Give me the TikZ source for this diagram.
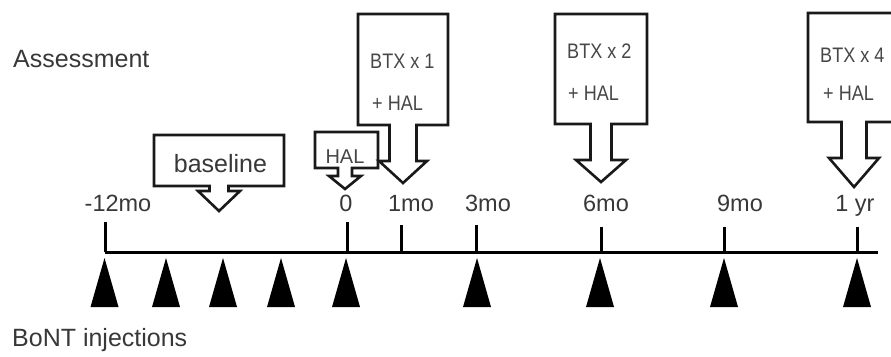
\documentclass[tikz,border=0pt]{standalone}
\usepackage{fontspec}
\setmainfont{Liberation Sans}
\newfontfamily\narrowfont{Liberation Sans}[FakeStretch=0.86]
\begin{document}
\begin{tikzpicture}[x=1pt,y=-1pt,
  txt/.style={text=black!78,inner sep=0pt,font=\fontsize{25}{28}\selectfont},
  ticklbl/.style={text=black!78,inner sep=0pt,anchor=base,font=\fontsize{23.5}{26}\selectfont},
  boxtxt/.style={text=black!72,inner sep=0pt,anchor=base west,font=\narrowfont\fontsize{21}{24}\selectfont},
  callout/.style={draw=black!90,line width=2.6pt,fill=white,line join=miter},
  axis/.style={draw=black,line width=3pt},
  tickline/.style={draw=black,line width=3pt},
  inj/.style={fill=black,draw=none}]
\useasboundingbox (0,0) rectangle (891,356);
% callout macro: l,t,r,b,c,sw,hy,hw,ty
\newcommand\mycallout[9]{%
  \path[callout] (#1,#2) -- (#3,#2) -- (#3,#4) -- ({#5+#6},#4) -- ({#5+#6},#7) -- ({#5+#8},#7)
    -- (#5,#9) -- ({#5-#8},#7) -- ({#5-#6},#7) -- ({#5-#6},#4) -- (#1,#4) -- cycle;}
% side labels
\node[txt,anchor=base west] (assess) at (13,67) {Assessment};
\node[txt,anchor=base west] (bont) at (12,346) {BoNT injections};
% callouts
\mycallout{154}{135}{284}{186}{219}{9.5}{191}{21}{211}
\mycallout{315}{132}{378}{168}{345}{7}{176}{16}{189}
\mycallout{358}{14}{448}{125}{403}{13.5}{161}{24}{183}
\mycallout{555}{14}{647}{124}{601}{10.5}{160}{25}{182}
\begin{scope}
\clip (0,0) rectangle (891,356);
\mycallout{808}{13}{894}{122}{854}{12.5}{158}{25}{187}
\end{scope}
\node[txt,anchor=base] (baseline) at (220.5,172) {baseline};
\node[boxtxt,anchor=base,font=\fontsize{20}{24}\selectfont] (hal0) at (345,163) {HAL};
\node[boxtxt] (b1a) at (370,68) {BTX x 1};
\node[boxtxt] (b1b) at (372,110) {+ HAL};
\node[boxtxt] (b2a) at (567,58) {BTX x 2};
\node[boxtxt] (b2b) at (568,100) {+ HAL};
\node[boxtxt] (b4a) at (820,62) {BTX x 4};
\node[boxtxt] (b4b) at (823,100) {+ HAL};
% timeline
\coordinate (ls) at (105,252);
\coordinate (le) at (878,252);
\draw[axis] (ls) -- (le);
\foreach \x/\t in {105/222,347/222,401/225,476/225,601/227,724/227,857/227}{
  \coordinate (tk\x) at (\x,\t);
  \draw[tickline] (tk\x) -- (\x,252);
}
\node[ticklbl] (m12) at (118,211) {-12mo};
\node[ticklbl] (m0) at (346,211) {0};
\node[ticklbl] (m1) at (411,211) {1mo};
\node[ticklbl] (m3) at (488,211) {3mo};
\node[ticklbl] (m6) at (606,211) {6mo};
\node[ticklbl] (m9) at (740,211) {9mo};
\node[ticklbl] (y1) at (855,211) {1 yr};
% injections
\foreach \x in {104.5,166,223,281,346,477,600,724,857}{
  \path[inj] (\x,258) -- ({\x+14},307) -- ({\x-14},307) -- cycle;
}
\end{tikzpicture}
\end{document}
